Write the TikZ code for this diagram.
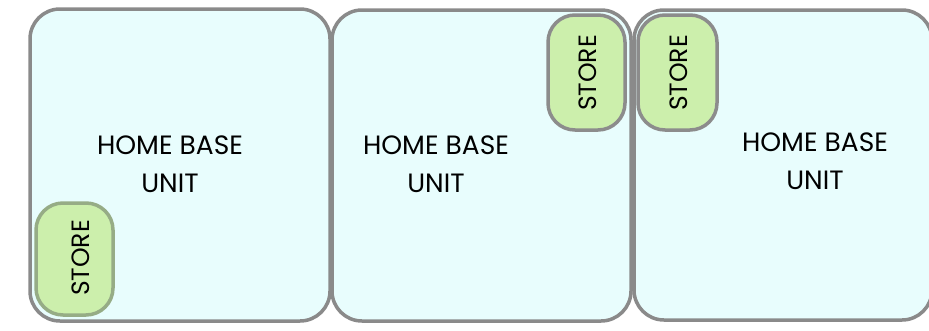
\documentclass[tikz,border=0pt]{standalone}
\usepackage{fontspec}
\setmainfont{Poppins}
\definecolor{unitfill}{HTML}{E8FDFD}
\definecolor{unitline}{HTML}{8A8A8A}
\definecolor{storefill}{HTML}{CCEFAC}
\definecolor{storeline}{HTML}{8C8C8C}
\definecolor{storelineg}{HTML}{96AC86}
\begin{document}
\begin{tikzpicture}[x=1pt,y=-1pt,
  unitbox/.style={draw=unitline, fill=unitfill, line width=3.5pt, rounded corners=30pt},
  storebox/.style={draw=storeline, fill=storefill, line width=3.5pt, rounded corners=27pt},
  lbl/.style={font=\fontsize{26.5}{38}\selectfont, align=center, inner sep=0pt, text=black},
  slbl/.style={font=\fontsize{25}{26}\selectfont, rotate=90, inner sep=0pt, text=black}]
\useasboundingbox (0,0) rectangle (929,330);
\begin{scope}
\clip (0,0) rectangle (929,330);
\draw[unitbox] (30,9) rectangle (330,321);
\draw[unitbox] (332,10) rectangle (631,321);
\draw[unitbox] (634,10) rectangle (932,320);
\draw[storebox, draw=storelineg] (36,203) rectangle (113,315);
\draw[storebox] (548,15) rectangle (625,130);
\draw[storebox] (638,15) rectangle (717,130);
\end{scope}
\node[lbl] (u1) at (170,164) {HOME BASE\\UNIT};
\node[lbl] (u2) at (436,164) {HOME BASE\\UNIT};
\node[lbl] (u3) at (815,161) {HOME BASE\\UNIT};
\node[slbl] (s1) at (81,258) {STORE};
\node[slbl] (s2) at (588,73) {STORE};
\node[slbl] (s3) at (679,73) {STORE};
\end{tikzpicture}
\end{document}
